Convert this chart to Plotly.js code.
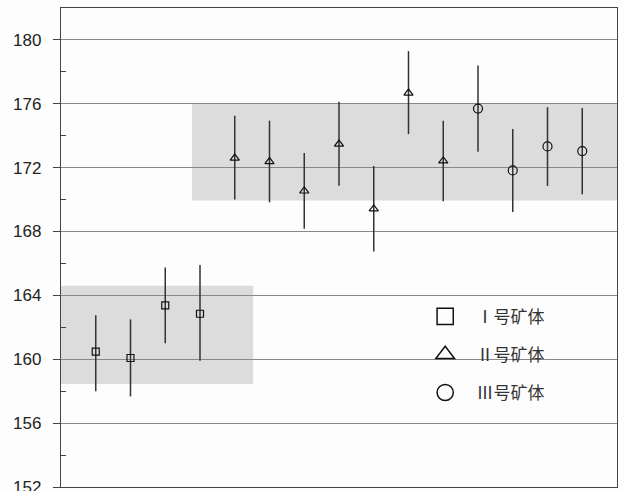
<!DOCTYPE html>
<html><head><meta charset="utf-8">
<script src="https://cdn.plot.ly/plotly-3.0.1.min.js"></script>
<style>html,body{margin:0;padding:0;background:#fff;}#chart{width:625px;height:491px;}</style>
</head><body><div id="chart"></div>
<script>
// Data
const names = ["\u00a0\u00a0\u00a0Ⅰ号矿体", "\u00a0\u00a0\u00a0Ⅱ号矿体", "\u00a0\u00a0\u00a0Ⅲ号矿体"];
const xI = [1, 2, 3, 4];
const yI = [160.48, 160.08, 163.38, 162.85];
const upI = [162.75, 162.5, 165.75, 165.9];
const loI = [158.0, 157.67, 161.0, 159.9];

const xII = [5, 6, 7, 8, 9, 10, 11];
const yII = [172.6, 172.38, 170.54, 173.48, 169.42, 176.67, 172.42];
const upII = [175.25, 174.94, 172.92, 176.13, 172.1, 179.3, 174.94];
const loII = [170.0, 169.83, 168.17, 170.87, 166.75, 174.1, 169.9];

const xIII = [12, 13, 14, 15];
const yIII = [175.7, 171.83, 173.33, 173.04];
const upIII = [178.4, 174.42, 175.79, 175.73];
const loIII = [173.0, 169.23, 170.85, 170.33];

// shaded ranges [x0, x1, y0, y1]
const boxI = [0, 5.53, 158.45, 164.6];
const boxII = [3.77, 16, 169.95, 176];

const yTicks = [152, 156, 160, 164, 168, 172, 176, 180];

function mk(x, y, up, lo, name, symbol, size) {
  return {
    type: 'scatter', mode: 'markers', x: x, y: y, name: name, legendgroup: name,
    marker: {symbol: symbol, size: size, color: '#111', line: {width: 1.2, color: '#111'}},
    error_y: {type: 'data', symmetric: false,
      array: up.map((u, i) => u - y[i]),
      arrayminus: lo.map((l, i) => y[i] - l),
      width: 0, thickness: 1.5, color: '#333'},
    cliponaxis: false
  };
}

const traces = [
  mk(xI, yI, upI, loI, names[0], 'square-open', 7),
  mk(xII, yII, upII, loII, names[1], 'triangle-up-open', 8),
  mk(xIII, yIII, upIII, loIII, names[2], 'circle-open', 9)
];

const rect = (b) => ({type: 'rect', xref: 'x', yref: 'y', x0: b[0], x1: b[1], y0: b[2], y1: b[3],
  fillcolor: '#dcdcdc', line: {width: 0}, layer: 'below'});

const layout = {
  width: 625, height: 491,
  margin: {l: 61, r: 8, t: 8, b: 4, pad: 0},
  paper_bgcolor: '#fdfdfd', plot_bgcolor: '#fdfdfd',
  font: {family: 'Liberation Sans, Arial, sans-serif', color: '#222'},
  showlegend: true,
  legend: {x: 0.655, y: 0.393, xanchor: 'left', yanchor: 'top', bgcolor: 'rgba(0,0,0,0)',
    borderwidth: 0, tracegroupgap: 13, itemsizing: 'constant',
    font: {family: 'Noto Sans CJK SC', size: 17, color: '#333'}},
  xaxis: {range: [0, 16], showgrid: false, zeroline: false, showticklabels: false, ticks: '',
    showline: true, mirror: true, linecolor: '#444', linewidth: 1.2, fixedrange: true},
  yaxis: {range: [152, 182], tickvals: yTicks, ticktext: yTicks.map(String),
    ticks: 'outside', ticklen: 7, tickwidth: 1, tickcolor: '#444',
    showgrid: true, gridcolor: '#888', gridwidth: 1, zeroline: false,
    showline: true, mirror: true, linecolor: '#444', linewidth: 1.2,
    tickfont: {size: 17, color: '#222'}, ticklabelstandoff: 8, ticklabeloverflow: 'allow',
    minor: {tickvals: [154, 158, 162, 166, 170, 174, 178], ticks: 'inside', ticklen: 5, tickcolor: '#444', showgrid: false}},
  shapes: [rect(boxI), rect(boxII)]
};

Plotly.newPlot('chart', traces, layout, {staticPlot: true}).then(function (gd) {
  // enlarge legend symbols to match reference
  gd.querySelectorAll('.legend .legendpoints path.scatterpts').forEach(function (p) {
    const t = p.getAttribute('transform') || '';
    p.setAttribute('transform', t + ' scale(1.35)');
    p.style.strokeWidth = '1.1px';
  });
});
</script></body></html>
